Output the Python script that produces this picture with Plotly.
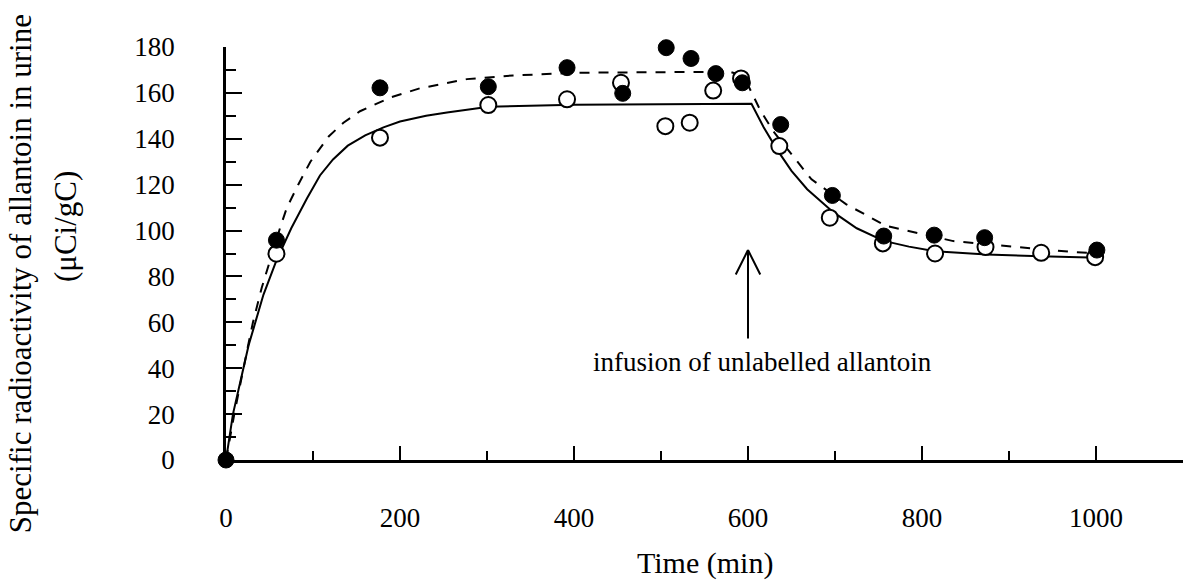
import plotly.graph_objects as go

# ---- data ----
time_open = [58, 177, 301.5, 392, 454, 505, 533, 560, 592, 636, 694, 755, 815, 873, 937, 999]
act_open = [89.9, 140.5, 154.7, 157.2, 164.4, 145.5, 147, 161, 166.3, 136.8, 105.6, 94.4, 90, 92.8, 90.3, 88.4]

time_filled = [0, 58, 177, 301.5, 392, 456, 506, 534.5, 563, 593.5, 637.6, 697, 756, 814, 872, 1001]
act_filled = [0, 95.8, 162.2, 162.7, 171, 159.8, 179.7, 175, 168.4, 164.4, 146.2, 115.3, 97.6, 98, 96.9, 91.5]

fit_solid_t = [0, 8, 20, 26, 43, 58, 75, 93, 108, 123, 140, 160, 181, 200, 230, 254, 302, 400, 500, 604,
               618, 633, 650, 668, 698, 725, 756, 785, 815, 874, 936, 1003]
fit_solid_y = [0, 20, 40, 50, 72, 87, 101, 114, 124, 131, 137, 141.5, 145, 147.5, 150, 151.5, 154, 154.8,
               155, 155.3, 145, 135.5, 126, 118, 108, 101, 95.5, 93, 91, 89.6, 88.8, 88.1]

fit_dashed_t = [0, 10, 26, 31, 41, 49, 62, 70, 83, 97, 118, 135, 154, 189, 223, 277, 330, 407, 522, 579,
                595, 606, 614, 629, 658, 673, 713, 759, 836, 897, 974, 1003]
fit_dashed_y = [0, 21, 51, 60, 75, 85, 101, 110, 120, 130, 141, 147, 152, 158, 162, 166, 167.6, 168.8,
                169.2, 169.2, 167.3, 158.6, 152.5, 143.3, 129.6, 122.3, 111.4, 102, 95.4, 93.2, 90.6, 90]

x_tick_vals = [0, 200, 400, 600, 800, 1000]
x_tick_text = ["0", "200", "400", "600", "800", "1000"]
y_tick_vals = [0, 20, 40, 60, 80, 100, 120, 140, 160, 180]
y_tick_text = ["0", "20", "40", "60", "80", "100", "120", "140", "160", "180"]

infusion_time = 600

FONT = "Liberation Serif, Times New Roman, serif"

fig = go.Figure()

fig.add_trace(go.Scatter(x=fit_solid_t, y=fit_solid_y, mode="lines",
                         line=dict(color="black", width=2), hoverinfo="skip", showlegend=False))
fig.add_trace(go.Scatter(x=fit_dashed_t, y=fit_dashed_y, mode="lines",
                         line=dict(color="black", width=2, dash="10px,9px"), hoverinfo="skip",
                         showlegend=False))
fig.add_trace(go.Scatter(x=time_open, y=act_open, mode="markers", cliponaxis=False,
                         marker=dict(symbol="circle", size=16, color="white",
                                     line=dict(color="black", width=2)), showlegend=False))
fig.add_trace(go.Scatter(x=time_filled, y=act_filled, mode="markers", cliponaxis=False,
                         marker=dict(symbol="circle", size=16, color="black",
                                     line=dict(color="black", width=1)), showlegend=False))

# arrow: shaft and open V head
arrow_top = 91.5
for ax_off, ay_off in [(0, 90), (-13, 26), (13, 26)]:
    fig.add_annotation(x=infusion_time, y=arrow_top, xref="x", yref="y", text="",
                       showarrow=True, arrowhead=0, arrowwidth=2, arrowcolor="black",
                       ax=ax_off, ay=ay_off)

fig.add_annotation(x=617, y=42.5, xref="x", yref="y", text="infusion of unlabelled allantoin",
                   showarrow=False, font=dict(family=FONT, size=27, color="black"))

# axis titles
fig.add_annotation(x=0.5, y=0, xref="paper", yref="paper", text="Time (min)", showarrow=False,
                   yanchor="middle", yshift=-103, font=dict(family=FONT, size=30, color="black"))
fig.add_annotation(x=0, y=0.45, xref="paper", yref="paper",
                   text="Specific radioactivity of allantoin in urine", showarrow=False,
                   textangle=-90, xanchor="center", yanchor="middle", xshift=-206,
                   font=dict(family=FONT, size=31, color="black"))
fig.add_annotation(x=0, y=0.564, xref="paper", yref="paper", text="(μCi/gC)", showarrow=False,
                   textangle=-90, xanchor="center", yanchor="middle", xshift=-161,
                   font=dict(family=FONT, size=31, color="black"))

fig.update_xaxes(range=[0, 1100], showline=True, linecolor="black", linewidth=2.5,
                 showgrid=False, zeroline=False, ticks="inside", ticklen=14, tickwidth=2,
                 tickcolor="black", tickvals=x_tick_vals, ticktext=x_tick_text,
                 tickfont=dict(family=FONT, size=27, color="black"), ticklabelstandoff=32,
                 minor=dict(ticks="inside", ticklen=9, tickwidth=2, tickcolor="black",
                            dtick=100, tick0=0, showgrid=False))
fig.update_yaxes(range=[0, 180], showline=True, linecolor="black", linewidth=2.5,
                 showgrid=False, zeroline=False, ticks="inside", ticklen=16, tickwidth=2,
                 tickcolor="black", tickvals=y_tick_vals, ticktext=y_tick_text,
                 tickfont=dict(family=FONT, size=27, color="black"), ticklabelstandoff=43,
                 minor=dict(ticks="inside", ticklen=10, tickwidth=2, tickcolor="black",
                            dtick=10, tick0=0, showgrid=False))

fig.update_layout(width=1193, height=582, margin=dict(l=226, r=10, t=47, b=122),
                  plot_bgcolor="white", paper_bgcolor="white", showlegend=False)

fig.write_html("out.html", config={"displayModeBar": False},
               post_script="document.body.style.margin='0';document.body.style.overflow='hidden';")
